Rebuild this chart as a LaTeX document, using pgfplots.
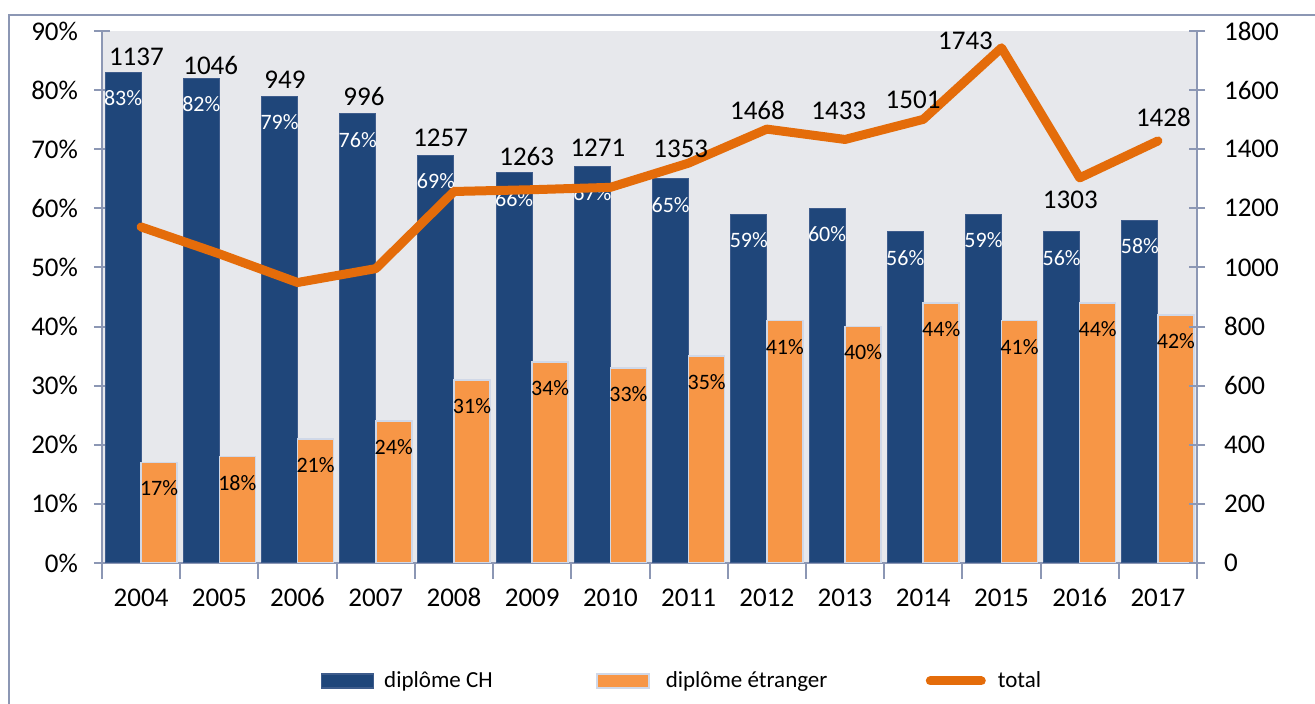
\documentclass[border=0pt]{standalone}
\usepackage{fontspec}
\setmainfont{Carlito}
\usepackage{pgfplots}
\usepackage{pgfplotstable}
\pgfplotsset{compat=1.18}
\definecolor{cblue}{RGB}{31,70,122}
\definecolor{cblueedge}{RGB}{62,92,140}
\definecolor{corange}{RGB}{247,150,70}
\definecolor{cedge}{RGB}{208,216,232}
\definecolor{cline}{RGB}{228,108,10}
\definecolor{cbg}{RGB}{231,232,236}
\definecolor{caxis}{RGB}{140,151,180}

\pgfplotsset{
  barleg/.style={legend image code/.code={\draw[##1] (0pt,-3.5pt) rectangle (26pt,3.5pt);}},
  lineleg/.style={legend image code/.code={\draw[##1] (2.25pt,0pt) -- (27.75pt,0pt);}},
}

\pgfplotstableread{
x ch et tot
1 83 17 1137
2 82 18 1046
3 79 21 949
4 76 24 996
5 69 31 1257
6 66 34 1263
7 67 33 1271
8 65 35 1353
9 59 41 1468
10 60 40 1433
11 56 44 1501
12 59 41 1743
13 56 44 1303
14 58 42 1428
}\data

\pgfplotstableread{
lx ly lab
0.94 1712 1137
1.89 1682 1046
2.84 1634 949
3.85 1580 996
4.83 1438 1257
5.93 1374 1263
6.84 1404 1271
7.90 1401 1353
8.88 1533 1468
9.92 1529 1433
10.87 1566 1501
11.54 1766 1743
12.88 1228 1303
14.07 1509 1428
}\labels

\begin{document}
\begin{tikzpicture}
\pgfplotsset{
  common/.style={scale only axis, width=547.5pt, height=266pt,
    xmin=0.5, xmax=14.5, enlargelimits=false,
    tick align=center, major tick length=8pt,
    every tick/.style={draw=caxis, line width=1pt},
    axis line style={draw=caxis, line width=1pt},
    /pgf/number format/assume math mode=true,
    /pgf/number format/1000 sep={},
    ticklabel style={font=\fontsize{13.5pt}{15pt}\selectfont, text=black}},
}
\draw[caxis, line width=1pt] (-46.5pt,-80pt) -- (-46.5pt,274pt) -- (620pt,274pt);
\begin{axis}[common, ymin=0, ymax=90,
  axis x line*=bottom, axis y line*=left,
  axis background/.style={fill=cbg},
  ybar=0pt, bar width=18pt,
  xtick={0.5,1.5,...,14.5}, xticklabels={},
  extra x ticks={1,2,...,14},
  extra x tick labels={2004,2005,2006,2007,2008,2009,2010,2011,2012,2013,2014,2015,2016,2017},
  extra x tick style={major tick length=0pt},
  xticklabel style={anchor=base, yshift=-22pt},
  yticklabel style={xshift=-4.5pt},
  ytick={0,10,...,90},
  yticklabel={\pgfmathprintnumber{\tick}\%},
  nodes near coords={\pgfmathprintnumber{\pgfplotspointmeta}\%},
  nodes near coords style={anchor=center, yshift=-13pt, font=\fontsize{11pt}{12pt}\selectfont},
]
\addplot[fill=cblue, draw=cblueedge, line width=0.5pt, nodes near coords style={text=white}] table[x=x,y=ch]{\data};
\addplot[fill=corange, draw=cedge, line width=0.8pt, nodes near coords style={text=black}] table[x=x,y=et]{\data};
\end{axis}
\begin{axis}[common, ymin=0, ymax=1800,
  axis y line*=right, axis x line=none,
  ytick={0,200,...,1800}, clip=false,
  yticklabel style={xshift=6pt},
  legend columns=3, legend cell align=left,
  legend style={at={(axis description cs:0.2,-0.2218)}, anchor=west,
    draw=none, fill=none, inner sep=0pt, outer sep=0pt,
    font=\fontsize{11.5pt}{13pt}\selectfont,
    nodes={inner sep=0pt}},
]
\addlegendimage{fill=cblue, draw=cblueedge, line width=0.6pt, barleg}
\addlegendentry{\makebox[111pt][l]{\hspace{5pt}diplôme CH}}
\addlegendimage{fill=corange, draw=cedge, line width=0.8pt, barleg}
\addlegendentry{\makebox[138pt][l]{\hspace{8pt}diplôme étranger}}
\addplot[color=cline, line width=4.5pt, line cap=round, line join=round, mark=none, lineleg] table[x=x,y=tot]{\data};
\addlegendentry{\hspace{6pt}total}
\addplot[forget plot, draw=none, mark=none, nodes near coords, point meta=explicit symbolic,
  nodes near coords style={anchor=center, font=\fontsize{13.5pt}{15pt}\selectfont, text=black}]
  table[x=lx,y=ly,meta=lab]{\labels};
\end{axis}
\pgfresetboundingbox
\path[use as bounding box] (-51pt,-70.5pt) rectangle (606.5pt,281.5pt);
\end{tikzpicture}
\end{document}
